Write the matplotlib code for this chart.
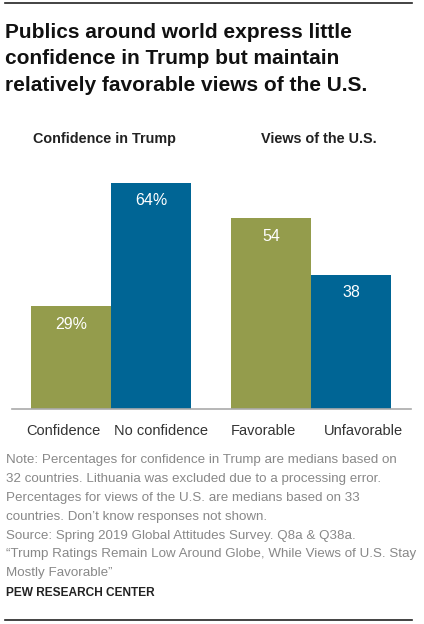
import matplotlib
matplotlib.use("Agg")
import matplotlib.pyplot as plt
from matplotlib.lines import Line2D
import matplotlib.transforms as mtransforms

# data
categories = ["Confidence", "No confidence", "Favorable", "Unfavorable"]
values = [29, 64, 54, 38]
value_labels = ["29%", "64%", "54", "38"]
positions = [0, 1, 2.5, 3.5]
group_titles = ["Confidence in Trump", "Views of the U.S."]

title_lines = [
    "Publics around world express little",
    "confidence in Trump but maintain",
    "relatively favorable views of the U.S.",
]
note_lines = [
    "Note: Percentages for confidence in Trump are medians based on",
    "32 countries. Lithuania was excluded due to a processing error.",
    "Percentages for views of the U.S. are medians based on 33",
    "countries. Don\u2019t know responses not shown.",
    "Source: Spring 2019 Global Attitudes Survey. Q8a & Q38a.",
    "\u201cTrump Ratings Remain Low Around Globe, While Views of U.S. Stay",
    "Mostly Favorable\u201d",
]

GREEN = "#949c4c"
BLUE = "#006595"
colors = [GREEN, BLUE, GREEN, BLUE]

W, H = 424, 624
plt.rcParams["font.family"] = ["Liberation Sans", "DejaVu Sans"]

fig = plt.figure(figsize=(W / 100, H / 100), dpi=100)


def fx(x):
    return x / W


def fy(y):
    return 1 - y / H


# rules at top and bottom
fig.add_artist(Line2D([fx(5), fx(412)], [fy(3), fy(3)], color="#222222", lw=1.2))
fig.add_artist(Line2D([fx(5), fx(412)], [fy(620), fy(620)], color="#222222", lw=1.2))

# title
for i, line in enumerate(title_lines):
    fig.text(fx(5), fy(32 + i * 26.7), line, fontsize=15, fontweight="bold",
             color="#111111", va="center", ha="left")

# group headers
fig.text(fx(33), fy(139), group_titles[0], fontsize=10.4, fontweight="bold",
         color="#222222", va="center", ha="left")
fig.text(fx(261), fy(139), group_titles[1], fontsize=10.4, fontweight="bold",
         color="#222222", va="center", ha="left")

# bars
ax_left, ax_right, ax_bottom = 12, 411, 409
ymax = 70
px_per_unit = 3.536
ax_top = ax_bottom - ymax * px_per_unit
ax = fig.add_axes([fx(ax_left), fy(ax_bottom), (ax_right - ax_left) / W,
                   (ax_bottom - ax_top) / H])
bars = ax.bar(positions, values, width=1.0, color=colors, edgecolor="none")
ax.set_xlim(-0.5 - 19 / 80, 4.0 + 20 / 80)
ax.set_ylim(0, ymax)

for b, lab in zip(bars, value_labels):
    ax.text(b.get_x() + b.get_width() / 2, b.get_height() - 5.1, lab,
            ha="center", va="center", color="white", fontsize=11.5)

for s in ["top", "right", "left"]:
    ax.spines[s].set_visible(False)
ax.spines["bottom"].set_color("#aaaaaa")
ax.spines["bottom"].set_linewidth(1.2)
ax.set_yticks([])
ax.set_xticks(positions, categories)
ax.tick_params(axis="x", length=0, pad=11, labelsize=10.5, labelcolor="#333333")
offsets = [-8, 10, -8, 12]
for lbl, dx in zip(ax.get_xticklabels(), offsets):
    lbl.set_transform(lbl.get_transform() +
                      mtransforms.ScaledTranslation(dx / 100, 0, fig.dpi_scale_trans))
ax.patch.set_alpha(0)

# notes
for i, line in enumerate(note_lines):
    fig.text(fx(6), fy(460 + i * 18.9), line, fontsize=9.6, color="#888888",
             va="center", ha="left")
fig.text(fx(6), fy(593), "PEW RESEARCH CENTER", fontsize=8.6, fontweight="bold",
         color="#222222", va="center", ha="left")

fig.savefig("out.png", dpi=100)
